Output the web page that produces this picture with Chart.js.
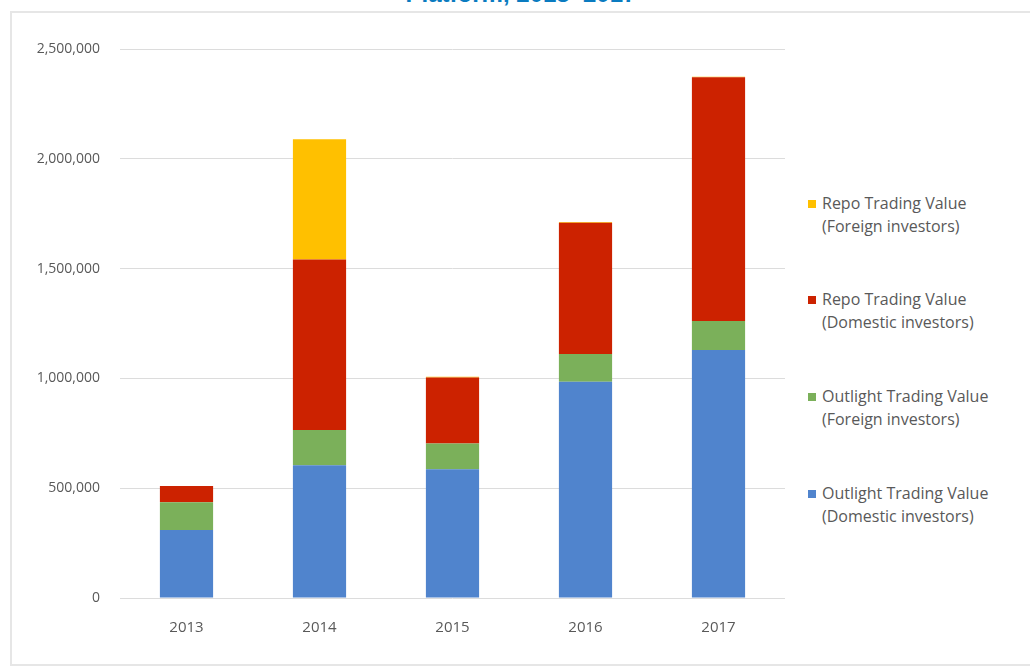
<!DOCTYPE html>
<html>
<head>
<meta charset="utf-8">
<script src="https://cdn.jsdelivr.net/npm/chart.js@4"></script>
<style>
    html, body { margin: 0; padding: 0; background: #fff; }
    body { width: 1030px; height: 668px; position: relative; overflow: hidden; font-family: "Open Sans", sans-serif; }
    #title {
        position: absolute; left: 0; width: 1042px; top: -21px; text-align: center;
        font-family: "Liberation Sans", Arial, sans-serif; font-weight: bold; font-size: 24px;
        color: #0a7bc0; line-height: 30px;
    }
    #box {
        position: absolute; left: 10px; top: 11px; width: 1040px; height: 655px;
        border: 2px solid #e6e6e6; box-sizing: border-box;
    }
    #chartWrap { position: absolute; left: 0; top: 0; width: 800px; height: 668px; }
    .legend-item { position: absolute; left: 808px; color: #595959; font-size: 16px; line-height: 23px; }
    .legend-item .sw { position: absolute; left: 0; top: 8px; width: 8px; height: 8px; }
    .legend-item .txt { margin-left: 14px; white-space: nowrap; }
</style>
</head>
<body>
<div id="title">Platform, 2013–2017</div>
<div id="box"></div>
<div id="chartWrap"><canvas id="chart" width="800" height="668"></canvas></div>
<div id="legend"></div>

<script>
let years = ['2013', '2014', '2015', '2016', '2017'];

let outrightDomestic = [310000, 605000, 586000, 985000, 1129000];
let outrightForeign = [126000, 160000, 118000, 126000, 132000];
let repoDomestic = [74000, 777000, 300000, 598000, 1110000];
let repoForeign = [0, 547000, 4000, 3000, 3000];

let seriesNames = [
    ['Outlight Trading Value', '(Domestic investors)'],
    ['Outlight Trading Value', '(Foreign investors)'],
    ['Repo Trading Value', '(Domestic investors)'],
    ['Repo Trading Value', '(Foreign investors)']
];
let seriesColors = ['#5084cd', '#7bb05a', '#cc2200', '#ffc000'];

let tickColor = '#595959';
let gridColor = '#dcdcdc';

let ctx = document.getElementById('chart').getContext('2d');

let chart = new Chart(ctx, {
    type: 'bar',
    data: {
        labels: years,
        datasets: [
            { label: seriesNames[0].join(' '), data: outrightDomestic, backgroundColor: seriesColors[0] },
            { label: seriesNames[1].join(' '), data: outrightForeign, backgroundColor: seriesColors[1] },
            { label: seriesNames[2].join(' '), data: repoDomestic, backgroundColor: seriesColors[2] },
            { label: seriesNames[3].join(' '), data: repoForeign, backgroundColor: seriesColors[3] }
        ]
    },
    options: {
        responsive: false,
        animation: false,
        layout: {
            padding: { left: 0, right: 15, top: 49, bottom: 20 }
        },
        datasets: {
            bar: {
                barPercentage: 0.8,
                categoryPercentage: 0.5,
                borderWidth: 0
            }
        },
        plugins: {
            legend: { display: false },
            tooltip: { enabled: false }
        },
        scales: {
            x: {
                stacked: true,
                grid: { display: false },
                border: { display: false },
                ticks: {
                    color: tickColor,
                    font: { family: 'Open Sans', size: 15 },
                    padding: 13
                },
                afterFit: function(scale) { scale.height = 50; }
            },
            y: {
                stacked: true,
                min: 0,
                max: 2500000,
                grid: { color: gridColor, lineWidth: 1, drawTicks: false },
                border: { display: false },
                ticks: {
                    stepSize: 500000,
                    color: tickColor,
                    font: { family: 'Open Sans', size: 14 },
                    padding: 20,
                    callback: function(value) {
                        return value.toLocaleString('en-US');
                    }
                },
                afterFit: function(scale) { scale.width = 120; }
            }
        }
    }
});

// legend on the right, top item is the top of the stack
let legend = document.getElementById('legend');
let legendTops = [482, 385, 288, 192];
for (let i = 3; i >= 0; i--) {
    let item = document.createElement('div');
    item.className = 'legend-item';
    item.style.top = legendTops[i] + 'px';
    item.innerHTML = `
        <div class="sw" style="background:${seriesColors[i]}"></div>
        <div class="txt">${seriesNames[i][0]}<br>${seriesNames[i][1]}</div>
    `;
    legend.appendChild(item);
}
</script>
</body>
</html>
